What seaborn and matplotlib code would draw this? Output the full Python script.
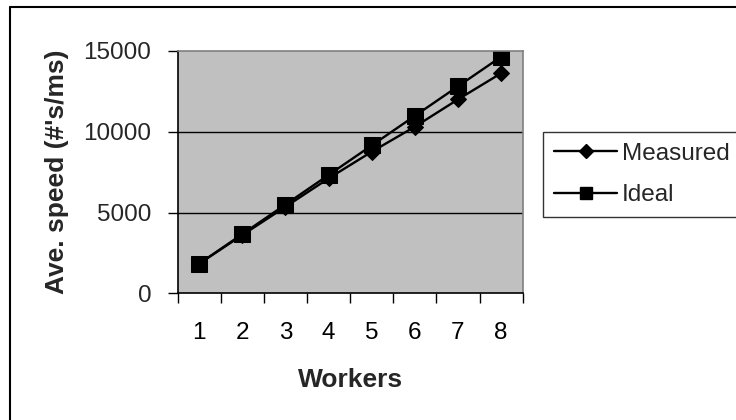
import matplotlib
matplotlib.use("Agg")
import matplotlib.pyplot as plt
from matplotlib.lines import Line2D
from matplotlib.ticker import FixedLocator
import seaborn as sns
import pandas as pd

workers = [1, 2, 3, 4, 5, 6, 7, 8]
measured = [1830, 3600, 5350, 7110, 8760, 10310, 12000, 13620]
ideal = [1830, 3660, 5490, 7320, 9150, 10980, 12810, 14640]
y_ticks = [0, 5000, 10000, 15000]

df = pd.DataFrame({
    "Workers": workers * 2,
    "Speed": measured + ideal,
    "Series": ["Measured"] * len(workers) + ["Ideal"] * len(workers),
})

sns.set_theme(style="white")
plt.rcParams["font.family"] = ["Liberation Sans", "DejaVu Sans"]

fig = plt.figure(figsize=(7.36, 4.2), dpi=100)
ax = fig.add_axes([0.2412, 0.3017, 0.469, 0.577])
ax.set_facecolor("#C0C0C0")

sns.lineplot(
    data=df, x="Workers", y="Speed", hue="Series", style="Series",
    palette={"Measured": "black", "Ideal": "black"},
    markers={"Measured": "D", "Ideal": "s"},
    dashes={"Measured": "", "Ideal": ""},
    markersize=9, linewidth=1.7, ax=ax, legend=False,
)
for line in ax.get_lines():
    line.set_markeredgecolor("black")
ax.get_lines()[1].set_markersize(11)
ax.get_lines()[0].set_markersize(8)

ax.set_xlim(0.5, 8.5)
ax.set_ylim(0, 15000)
ax.set_yticks(y_ticks)
ax.set_xticks(workers)
ax.xaxis.set_minor_locator(FixedLocator([w - 0.5 for w in workers] + [8.5]))
ax.tick_params(axis="x", which="major", length=0, pad=21, labelsize=17.5, colors="black")
ax.tick_params(axis="x", which="minor", length=7, width=1, direction="out", color="black", bottom=True)
ax.tick_params(axis="y", length=7, width=1, direction="out", color="black", left=True, pad=12, labelsize=17.5)
for y in y_ticks[1:-1]:
    ax.axhline(y, color="black", linewidth=1, zorder=1)

for side in ("left", "bottom"):
    ax.spines[side].set_color("black")
    ax.spines[side].set_linewidth(1.2)
for side in ("top", "right"):
    ax.spines[side].set_visible(True)
    ax.spines[side].set_color("#808080")
    ax.spines[side].set_linewidth(1.2)

ax.set_xlabel("Workers", fontsize=19, fontweight="bold", labelpad=17)
ax.set_ylabel("Ave. speed (#'s/ms)", fontsize=19, fontweight="bold", labelpad=10)

handles = [
    Line2D([], [], color="black", marker="D", markersize=7, linewidth=1.7, label="Measured"),
    Line2D([], [], color="black", marker="s", markersize=9, linewidth=1.7, label="Ideal"),
]
leg = fig.legend(
    handles=handles, loc="upper left", bbox_to_anchor=(543 / 736, 1 - 132 / 420),
    fontsize=17.5, frameon=True, fancybox=False, handlelength=2.6,
    handletextpad=0.2, borderpad=0.45, labelspacing=0.8, borderaxespad=0,
)
leg.get_frame().set_edgecolor("black")
leg.get_frame().set_linewidth(1.0)

# chart frame
fig.add_artist(Line2D([10 / 736, 10 / 736], [0, 1 - 7 / 420], color="black", linewidth=1.5, transform=fig.transFigure))
fig.add_artist(Line2D([10 / 736, 1], [1 - 7 / 420, 1 - 7 / 420], color="black", linewidth=1.5, transform=fig.transFigure))

fig.savefig("out.png", dpi=100, facecolor="white")
